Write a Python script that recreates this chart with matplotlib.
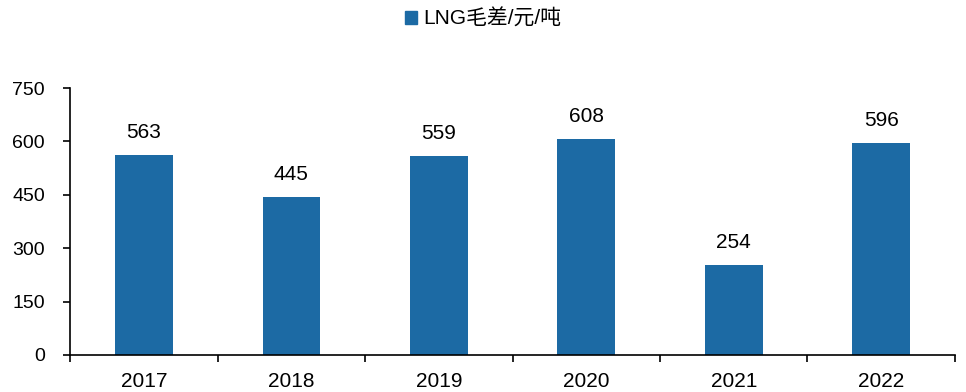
import matplotlib
matplotlib.use("Agg")
from matplotlib import pyplot as plt
from matplotlib.patches import Patch
import numpy as np

plt.rcParams['font.family'] = ['Liberation Sans', 'Noto Sans CJK SC', 'DejaVu Sans']

years = ["2017", "2018", "2019", "2020", "2021", "2022"]
spread = [563, 445, 559, 608, 254, 596]
y_ticks = [0, 150, 300, 450, 600, 750]
legend_label = "LNG毛差/元/吨"
bar_color = "#1c6aa4"

fig = plt.figure(figsize=(9.66, 3.92), dpi=100)
ax = fig.add_axes([0.0725, 0.0944, 0.9161, 0.6811])

x = np.arange(len(years))
bars = ax.bar(x, spread, width=0.39, color=bar_color)
for rect, v in zip(bars, spread):
    ax.annotate(str(v), (rect.get_x() + rect.get_width() / 2, v),
                xytext=(0, 9), textcoords="offset points",
                ha="center", va="bottom", fontsize=15)

ax.set_xlim(-0.5, len(years) - 0.5)
ax.set_ylim(0, 750)
ax.set_yticks(y_ticks)
ax.set_xticks(x)
ax.set_xticklabels(years)
ax.set_xticks(np.arange(len(years) + 1) - 0.5, minor=True)
ax.tick_params(axis="x", which="major", length=0, labelsize=15, pad=12)
ax.tick_params(axis="x", which="minor", length=5, width=1.2, direction="out")
ax.tick_params(axis="y", length=5, width=1.2, direction="out", labelsize=14, pad=13)

for side in ("top", "right"):
    ax.spines[side].set_visible(False)
for side in ("left", "bottom"):
    ax.spines[side].set_linewidth(1.2)

fig.legend(handles=[Patch(color=bar_color, label=legend_label)],
           loc="center", bbox_to_anchor=(0.5, 0.953), frameon=False,
           fontsize=15, handlelength=0.6, handleheight=0.6, handletextpad=0.3)

fig.savefig("out.png", dpi=100)
